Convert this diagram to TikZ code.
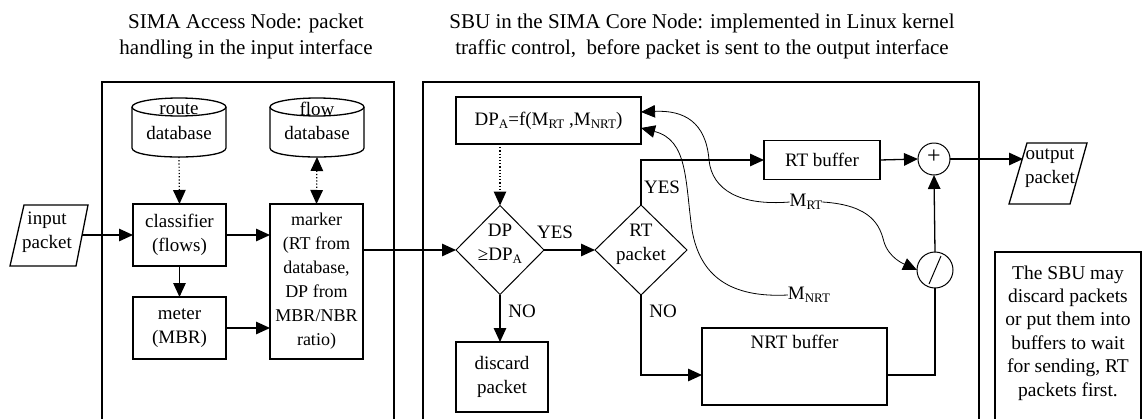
\documentclass[tikz,border=0pt]{standalone}
\usepackage{fontspec}
\setmainfont{Liberation Serif}
\usetikzlibrary{arrows.meta,shapes.geometric,calc}
\newcommand\lsub[1]{\raisebox{-0.35ex}{\fontsize{13}{13}\selectfont #1}}
\begin{document}
\begin{tikzpicture}[x=1pt,y=-1pt,
  font=\fontsize{19}{24}\selectfont,
  every node/.style={inner sep=0pt,outer sep=0pt},
  frame/.style={draw,line width=1.5pt},
  box/.style={draw,line width=1.3pt,rectangle},
  ln/.style={line width=1.3pt},
  tip/.style={-{Triangle[length=14pt,width=12.5pt]}},
  arr/.style={ln,tip},
  darr/.style={line width=1.2pt,dotted,tip},
  crv/.style={line width=0.8pt,tip},
  txt/.style={align=center},
  title/.style={align=center,font=\fontsize{21}{26}\selectfont}]
\useasboundingbox (0,0) rectangle (1144,418);
\fill[white] (0,0) rectangle (1144,418);

% titles
\node[title] (title1) at (246,36) {SIMA Access Node: packet\\handling in the input interface};
\node[title] (title2) at (702,36) {SBU in the SIMA Core Node: implemented in Linux kernel\\traffic control,\ \ before packet is sent to the output interface};

% frames
\draw[frame] (102,420) -- (102,82) -- (394,82) -- (394,420);
\draw[frame] (423,420) -- (423,82) -- (979,82) -- (979,420);
\draw[frame] (995,420) -- (995,252) -- (1141,252) -- (1141,420);
\node[txt,font=\fontsize{19.5}{23.4}\selectfont] (note) at (1068,333) {The SBU may\\discard packets\\or put them into\\buffers to wait\\for sending, RT\\packets first.};

% databases
\draw[ln] (179,107) ellipse [x radius=47, y radius=9];
\draw[ln] (132,107) -- (132,148) .. controls (132,160) and (226,160) .. (226,148) -- (226,107);
\node[minimum width=94pt,minimum height=59pt] (routedb) at (179,127.5) {};
\node (routet) at (179,109) {route};
\node (routet2) at (179,133) {database};
\draw[ln] (317,107) ellipse [x radius=47, y radius=9];
\draw[ln] (270,107) -- (270,148) .. controls (270,160) and (364,160) .. (364,148) -- (364,107);
\node[minimum width=94pt,minimum height=59pt] (flowdb) at (317,127.5) {};
\node (flowt) at (317,109) {flow};
\node (flowt2) at (317,133) {database};

% input packet
\draw[ln] (24,205) -- (88,205) -- (76,266) -- (10,266) -- cycle;
\node[txt] (inp) at (47,232) {input\\packet};
\coordinate (inpR) at (82,235);

% access node boxes
\node[box,minimum width=93pt,minimum height=62pt,txt] (clf) at (179.5,235) {classifier\\(flows)};
\node[box,minimum width=93pt,minimum height=62pt,txt] (meter) at (179.5,328) {meter\\(MBR)};
\node[box,minimum width=93pt,minimum height=155pt,txt,font=\fontsize{18}{24}\selectfont] (marker) at (316.5,281.5) {marker\\(RT from\\database,\\DP from\\MBR/NBR\\ratio)};

\draw[arr] (inpR) -- (clf.west |- inpR);
\draw[darr] (routedb.south) -- (clf.north);
\draw[darr,{Triangle[length=14pt,width=12.5pt]}-{Triangle[length=14pt,width=12.5pt]}] (flowdb.south) -- (marker.north);
\draw[arr] (clf.south) -- (meter.north);
\draw[arr] (clf.east) -- (clf.east -| marker.west);
\draw[arr] (meter.east) -- (meter.east -| marker.west);

% core node
\node[box,minimum width=185pt,minimum height=47pt] (dpa) at (548.5,120.5) {DP\lsub{A}=f(M\lsub{RT} ,M\lsub{NRT})};
\node[draw,diamond,line width=1pt,minimum width=88pt,minimum height=89pt] (d1) at (500,250) {};
\node[txt] (d1t) at (500,244) {DP\\≥DP\lsub{A}};
\node[draw,diamond,line width=1pt,minimum width=92pt,minimum height=90pt] (d2) at (641,250) {};
\node[txt] (d2t) at (641,244) {RT\\packet};
\node[box,minimum width=92pt,minimum height=70pt,txt] (disc) at (502,377) {discard\\packet};
\node[box,minimum width=116pt,minimum height=39pt] (rtb) at (822,160) {RT buffer};
\node[box,minimum width=185pt,minimum height=77pt] (nrt) at (794.5,366.5) {};
\node (nrtt) at (794.5,342) {NRT buffer};
\node[draw,circle,line width=1pt,minimum size=32pt] (plus) at (934,159) {};
\node[font=\fontsize{24}{24}\selectfont] (plust) at (934,157) {+};
\node[draw,circle,line width=1pt,minimum size=36pt] (div) at (935,270) {};
\draw[line width=1pt] (929,284) -- (941,256);

% output packet
\draw[ln] (1027,143) -- (1087,143) -- (1070,204) -- (1009,204) -- cycle;
\node[txt] (outp) at (1050,168) {output\\packet};
\coordinate (outL) at (1023,159);

% labels
\node (yes1) at (555,232) {YES};
\node (yes2) at (662,187) {YES};
\node (no1) at (522,311) {NO};
\node (no2) at (663,311) {NO};
\node (mrt) at (806,202) {M\lsub{RT}};
\node (mnrt) at (809,295) {M\lsub{NRT}};

% connectors
\draw[arr] (marker.east |- d1.west) -- (d1.west);
\draw[darr] (dpa.south -| d1.north) -- (d1.north);
\draw[arr] (d1.east) -- (d2.west);
\draw[arr] (d1.south) -- (disc.north -| d1.south);
\draw[arr] (d2.north) |- (rtb.west);
\coordinate (nrtin) at (nrt.west |- 0,375);
\draw[arr] (d2.south) |- (nrtin);
\draw[arr] (rtb.east) -- (plus.west);
\coordinate (nrtout) at (nrt.east |- 0,375);
\draw[ln] (nrtout) -| (div.south);
\draw[arr] (div.north) -- (plus.south);
\draw[arr] (plus.east) -- (outL);

% curves
\draw[crv] (mrt.west) .. controls (740,206) and (712,190) .. (709,160)
  .. controls (706,122) and (684,110) .. ([yshift=8.5pt]dpa.east);
\draw[crv] (mnrt.west) .. controls (730,298) and (700,276) .. (692,230)
  .. controls (685,180) and (688,140) .. ([yshift=-7.5pt]dpa.east);
\draw[crv] (mrt.east) .. controls (872,205) and (880,226) .. (884,242)
  .. controls (889,258) and (904,264) .. (div.west);
\end{tikzpicture}
\end{document}
